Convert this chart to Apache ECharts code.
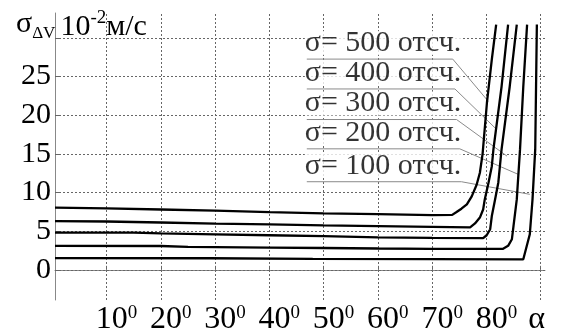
<!DOCTYPE html>
<html>
<head>
<meta charset="utf-8">
<script src="https://cdn.jsdelivr.net/npm/echarts@6/dist/echarts.min.js"></script>
<style>
  html, body { margin: 0; padding: 0; background: #fff; }
  #chartLineBox { width: 564px; height: 336px; }
</style>
</head>
<body>
<div id="chartLineBox"></div>
<script>
// подписи кривых
var curveNames = ["σ= 100 отсч.", "σ= 200 отсч.", "σ= 300 отсч.", "σ= 400 отсч.", "σ= 500 отсч."];

// кривые [alpha, sigma]
var curve100 = [[0.5, 1.52], [29, 1.5], [48, 1.42], [70, 1.38], [86.8, 1.36], [88.0, 4.6], [88.5, 9.1], [89.0, 15.6], [89.3, 31.7]];
var curve200 = [[0.5, 3.1], [20, 3.08], [25, 2.97], [40, 2.88], [50, 2.82], [60, 2.76], [70, 2.72], [83.0, 2.7], [84.0, 3.1], [84.7, 3.96], [85.0, 5.67], [85.6, 9.1], [86.2, 15.6], [86.8, 23.7], [87.5, 31.7]];
var curve300 = [[0.5, 4.82], [15, 4.8], [20, 4.7], [30, 4.58], [40, 4.47], [50, 4.35], [60, 4.2], [70, 4.12], [79.4, 4.1], [80.05, 4.47], [80.7, 5.25], [81.0, 6.96], [81.6, 9.1], [82.2, 11.3], [82.8, 15.6], [84.3, 23.7], [85.6, 31.7]];
var curve400 = [[0.5, 6.3], [10, 6.25], [20, 6.12], [30, 5.98], [40, 5.88], [50, 5.75], [60, 5.65], [70, 5.56], [77.0, 5.5], [77.9, 6.0], [78.8, 6.75], [79.4, 7.8], [79.7, 9.1], [80.4, 11.3], [81.0, 13.4], [81.3, 15.6], [82.8, 23.7], [84.0, 31.7]];
var curve500 = [[0.5, 8.04], [10, 7.95], [20, 7.8], [30, 7.65], [40, 7.45], [50, 7.3], [60, 7.2], [70, 7.08], [73.7, 7.1], [74.5, 7.47], [75.4, 7.9], [76.4, 8.47], [77.3, 9.5], [78.2, 11.0], [78.8, 12.55], [79.3, 15.0], [80.1, 21.6], [81.0, 27.2], [81.8, 31.7]];
var curves = [curve100, curve200, curve300, curve400, curve500];

// выноски к подписям
var leader100 = [[46.9, 11.39], [75.4, 11.39], [88.0, 9.76]];
var leader200 = [[46.9, 15.64], [75.1, 15.64], [85.9, 12.33]];
var leader300 = [[46.9, 19.43], [74.5, 19.43], [83.8, 14.7]];
var leader400 = [[46.9, 23.38], [74.2, 23.38], [81.9, 18.14]];
var leader500 = [[46.9, 27.24], [73.8, 27.24], [80.35, 21.78]];
var leaders = [leader100, leader200, leader300, leader400, leader500];

// деления осей
var xTicks = [10, 20, 30, 40, 50, 60, 70, 80, 90];
var xLabels = [10, 20, 30, 40, 50, 60, 70, 80, 90];
var yTicks = [0, 5, 10, 15, 20, 25, 30];
var yLabels = [0, 5, 10, 15, 20, 25];
var xMin = 0.5, xMax = 90.8, yMin = -3.9, yMax = 33.2;

var serif = "Liberation Serif";

var chartLine = echarts.init(document.getElementById("chartLineBox"));

var series = [];

// сетка пунктиром
var gridLines = [];
for (var i = 0; i < yTicks.length; i++) {
  gridLines.push({ yAxis: yTicks[i] });
}
for (var i = 0; i < xTicks.length; i++) {
  gridLines.push({ xAxis: xTicks[i] });
}
series.push({
  name: "grid",
  type: "line",
  data: [],
  z: 1,
  silent: true,
  markLine: {
    z: 1,
    silent: true,
    symbol: "none",
    animation: false,
    label: { show: false },
    lineStyle: { color: "#666", width: 1, type: [2, 2] },
    data: gridLines
  }
});

// подписи над выносками (белый фон закрывает сетку)
var labelPoints = [];
for (var i = 0; i < leaders.length; i++) {
  labelPoints.push({ value: leaders[i][0], name: curveNames[i] });
}
series.push({
  type: "scatter",
  data: labelPoints,
  symbolSize: 0,
  silent: true,
  z: 2,
  label: {
    show: true,
    position: [-2, -16],
    align: "left",
    verticalAlign: "middle",
    formatter: "{b}",
    fontFamily: serif,
    fontSize: 30,
    lineHeight: 24,
    backgroundColor: "#fff",
    padding: [0, 0, 0, 0],
    color: "#000"
  }
});

// выноски
for (var i = 0; i < leaders.length; i++) {
  series.push({
    type: "line",
    data: leaders[i],
    showSymbol: false,
    silent: true,
    z: 3,
    lineStyle: { color: "#8a8a8a", width: 1 }
  });
}

// кривые
for (var i = 0; i < curves.length; i++) {
  series.push({
    name: curveNames[i],
    type: "line",
    data: curves[i],
    showSymbol: false,
    silent: true,
    z: 4,
    lineStyle: { color: "#000", width: 2.3 }
  });
}

var option = {
  animation: false,
  title: {
    left: 11,
    top: 4,
    text: "{s|σ}{d|ΔV}{n|10}{p|-2}{n|м/с}",
    textStyle: {
      fontWeight: "normal",
      rich: {
        s: { fontFamily: serif, fontSize: 30, fontWeight: "normal", color: "#000", verticalAlign: "top" },
        d: { fontFamily: serif, fontSize: 17, fontWeight: "normal", color: "#000", verticalAlign: "bottom", padding: [0, 5, 3, 0] },
        n: { fontFamily: serif, fontSize: 30, lineHeight: 36, fontWeight: "normal", color: "#000" },
        p: { fontFamily: serif, fontSize: 19, fontWeight: "normal", color: "#000", verticalAlign: "top" }
      }
    }
  },
  grid: {
    left: 55,
    right: 19,
    top: 13,
    bottom: 35
  },
  xAxis: {
    type: "value",
    min: xMin,
    max: xMax,
    axisLine: { lineStyle: { color: "#888", width: 1 } },
    axisTick: { show: true, inside: true, length: 4, customValues: xTicks, lineStyle: { color: "#666" } },
    splitLine: { show: false },
    axisLabel: {
      customValues: xLabels,
      margin: 4,
      formatter: function(v) {
        if (v === 90) return "{a|α}";
        return "{n|" + v + "}{s|0}";
      },
      rich: {
        n: { fontFamily: serif, fontSize: 32, color: "#000", padding: [0, 0, 0, 20] },
        s: { fontFamily: serif, fontSize: 19, color: "#000", verticalAlign: "top" },
        a: { fontFamily: serif, fontSize: 32, color: "#000", padding: [0, 8, 0, 0] }
      }
    }
  },
  yAxis: {
    type: "value",
    min: yMin,
    max: yMax,
    axisLine: { show: true, lineStyle: { color: "#888", width: 1 } },
    axisTick: { show: true, inside: true, length: 4, customValues: yTicks, lineStyle: { color: "#666" } },
    splitLine: { show: false },
    axisLabel: {
      customValues: yLabels,
      margin: 4,
      fontFamily: serif,
      fontSize: 30,
      color: "#000"
    }
  },
  series: series
};

chartLine.setOption(option);
</script>
</body>
</html>
